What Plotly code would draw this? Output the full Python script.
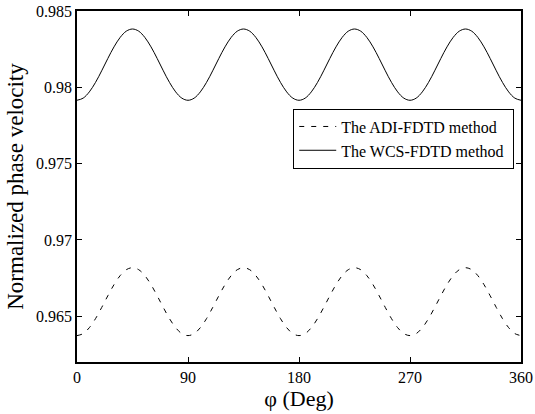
import plotly.graph_objects as go

phi = list(range(0, 361, 5))

wcs = [0.97915, 0.97929, 0.97970, 0.98032, 0.98108, 0.98189, 0.98265, 0.98327, 0.98368, 0.98382,
       0.98368, 0.98327, 0.98265, 0.98189, 0.98108, 0.98032, 0.97970, 0.97929,
       0.97915, 0.97929, 0.97970, 0.98032, 0.98108, 0.98189, 0.98265, 0.98327, 0.98368, 0.98382,
       0.98368, 0.98327, 0.98265, 0.98189, 0.98108, 0.98032, 0.97970, 0.97929,
       0.97915, 0.97929, 0.97970, 0.98032, 0.98108, 0.98189, 0.98265, 0.98327, 0.98368, 0.98382,
       0.98368, 0.98327, 0.98265, 0.98189, 0.98108, 0.98032, 0.97970, 0.97929,
       0.97915, 0.97929, 0.97970, 0.98032, 0.98108, 0.98189, 0.98265, 0.98327, 0.98368, 0.98382,
       0.98368, 0.98327, 0.98265, 0.98189, 0.98108, 0.98032, 0.97970, 0.97929,
       0.97915]
adi = [0.96373, 0.96386, 0.96425, 0.96484, 0.96557, 0.96634, 0.96707, 0.96766, 0.96805, 0.96818,
       0.96805, 0.96766, 0.96707, 0.96634, 0.96557, 0.96484, 0.96425, 0.96386,
       0.96373, 0.96386, 0.96425, 0.96484, 0.96557, 0.96634, 0.96707, 0.96766, 0.96805, 0.96818,
       0.96805, 0.96766, 0.96707, 0.96634, 0.96557, 0.96484, 0.96425, 0.96386,
       0.96373, 0.96386, 0.96425, 0.96484, 0.96557, 0.96634, 0.96707, 0.96766, 0.96805, 0.96818,
       0.96805, 0.96766, 0.96707, 0.96634, 0.96557, 0.96484, 0.96425, 0.96386,
       0.96373, 0.96386, 0.96425, 0.96484, 0.96557, 0.96634, 0.96707, 0.96766, 0.96805, 0.96818,
       0.96805, 0.96766, 0.96707, 0.96634, 0.96557, 0.96484, 0.96425, 0.96386,
       0.96373]

x_ticks = [0, 90, 180, 270, 360]
y_ticks = [0.965, 0.97, 0.975, 0.98, 0.985]
y_tick_labels = ["0.965", "0.97", "0.975", "0.98", "0.985"]

font = "Liberation Serif"

fig = go.Figure()
fig.add_trace(go.Scatter(x=phi, y=adi, mode="lines", name="The ADI-FDTD method\u00a0",
                         line=dict(color="black", width=1, dash="5px,7px"), line_shape="spline"))
fig.add_trace(go.Scatter(x=phi, y=wcs, mode="lines", name="The WCS-FDTD method\u00a0",
                         line=dict(color="black", width=1), line_shape="spline"))

fig.update_layout(
    template="none",
    width=535, height=414,
    margin=dict(l=77, r=14, t=11, b=52, autoexpand=False),
    paper_bgcolor="white", plot_bgcolor="white",
    font=dict(family=font, color="black", size=16),
    showlegend=True,
    legend=dict(x=0.487, y=0.722, xanchor="left", yanchor="top",
                bordercolor="black", borderwidth=1, bgcolor="white",
                font=dict(size=16, family=font), tracegroupgap=0,
                itemwidth=37),
)
fig.update_xaxes(range=[0, 360], tickvals=x_ticks, ticks="inside", ticklen=5, tickwidth=1,
                 tickcolor="black",
                 showline=True, linecolor="black", linewidth=1.5, mirror="ticks",
                 showgrid=False, zeroline=False, automargin=False,
                 title=dict(text="φ (Deg)", font=dict(size=22, family=font), standoff=4),
                 tickfont=dict(size=16, family=font))
fig.update_yaxes(range=[0.962, 0.985], tickvals=y_ticks, ticktext=y_tick_labels,
                 ticks="inside", ticklen=5, tickwidth=1, tickcolor="black",
                 showline=True, linecolor="black", linewidth=1.5, mirror="ticks",
                 showgrid=False, zeroline=False, automargin=False,
                 title=dict(text="Normalized phase velocity", font=dict(size=23, family=font), standoff=6),
                 tickfont=dict(size=16, family=font))

fig.write_html("out.html", config={"displayModeBar": False},
               post_script="document.body.style.margin='0';")
